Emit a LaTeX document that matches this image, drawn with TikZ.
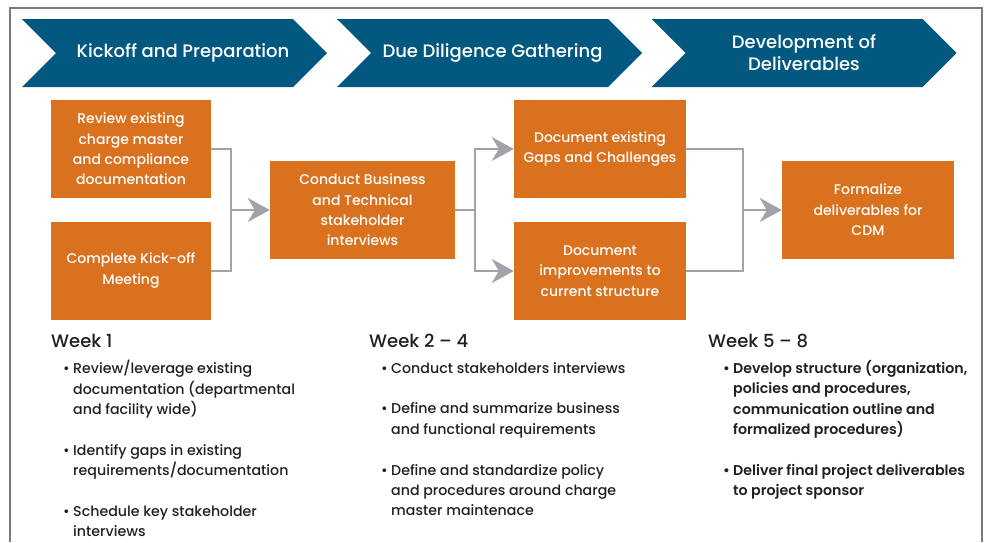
\documentclass[tikz,border=0pt]{standalone}
\usepackage{fontspec}
\setmainfont{Poppins}[UprightFont=* Medium, BoldFont=* SemiBold]
\usetikzlibrary{shapes.symbols,arrows.meta,positioning}

\definecolor{phaseblue}{HTML}{02587F}
\definecolor{taskorange}{HTML}{DA711F}
\definecolor{linkgray}{HTML}{A2A2A8}
\definecolor{framegray}{HTML}{7A7A7A}
\definecolor{inktext}{HTML}{231F20}

\newcommand{\bul}{\makebox[10pt][l]{\textbullet}}
\newcommand{\ind}{\hspace*{10pt}}

\begin{document}
\begin{tikzpicture}[x=1pt, y=-1pt,
    phase/.style={shape=signal, signal from=west, signal to=east, fill=phaseblue, text=white,
        minimum width=305pt, minimum height=68pt, inner sep=0pt, align=center,
        font=\fontsize{18}{22}\selectfont},
    task/.style={fill=taskorange, text=white, minimum height=98pt, inner sep=0pt, align=center,
        font=\fontsize{14}{20.4}\selectfont},
    link/.style={draw=linkgray, line width=2pt},
    flow/.style={-{Stealth[length=22pt, width=24pt, inset=7pt]}},
    week/.style={anchor=base west, inner sep=0pt, text=inktext, font=\fontsize{18}{20}\selectfont},
    notes/.style={anchor=north west, inner sep=0pt, align=left, text=inktext,
        font=\fontsize{14.2}{20.4}\selectfont}]
    \useasboundingbox (0,0) rectangle (987,542);

    % Outer frame (open at the bottom)
    \draw[framegray, line width=1.3pt] (10,542) -- (10,8) -- (982,8) -- (982,542);

    % Phase chevrons
    \node[phase] (kick) at (174.5,53) {\hspace*{17pt}Kickoff and Preparation};
    \node[phase] (dili) at (489.5,53) {\hspace*{6pt}Due Diligence Gathering};
    \node[phase] (devel) at (804,53) {Development of\\Deliverables};

    % Tasks - first column
    \node[task, minimum width=160pt] (review) at (131,149) {Review existing\\charge master\\and compliance\\documentation};
    \node[task, minimum width=160pt] (kickoff) at (131,270.5) {Complete Kick-off\\Meeting};

    % Tasks - middle
    \node[task, minimum width=185pt] (interviews) at (362.5,210) {Conduct Business\\and Technical\\stakeholder\\interviews};
    \node[task, minimum width=172pt] (gaps) at (600,149) {Document existing\\Gaps and Challenges};
    \node[task, minimum width=172pt] (improve) at (600,271) {Document\\improvements to\\current structure};

    % Tasks - last column
    \node[task, minimum width=172pt] (formalize) at (868,210) {Formalize\\deliverables for\\CDM};

    % Connectors
    \coordinate (join1) at (231,210);
    \coordinate (join2) at (475,210);
    \coordinate (join3) at (743,210);
    \draw[link] (review.east) -| (join1) |- (kickoff.east);
    \draw[link, flow] (join1) -- (interviews);
    \draw[link] (interviews.east) -- (join2);
    \draw[link, flow] (join2) |- (gaps.west);
    \draw[link, flow] (join2) |- (improve.west);
    \draw[link] (gaps.east) -| (join3) |- (improve.east);
    \draw[link, flow] (join3) -- (formalize);

    % Week headings
    \node[week] (wk1) at (51,347) {Week 1};
    \node[week] (wk2) at (369,347) {Week 2 – 4};
    \node[week] (wk3) at (708,347) {Week 5 – 8};

    % Activity lists
    \node[notes] (acts1) at (63,360) {\bul Review/leverage existing\\
        \ind documentation (departmental\\
        \ind and facility wide)\\[20.4pt]
        \bul Identify gaps in existing\\
        \ind requirements/documentation\\[20.4pt]
        \bul Schedule key stakeholder\\
        \ind interviews};
    \node[notes] (acts2) at (381,362) {\bul Conduct stakeholders interviews\\[20.4pt]
        \bul Define and summarize business\\
        \ind and functional requirements\\[20.4pt]
        \bul Define and standardize policy\\
        \ind and procedures around charge\\
        \ind master maintenace};
    \node[notes, font=\fontsize{14.2}{20.4}\selectfont\bfseries] (acts3) at (723,360) {\bul Develop structure (organization,\\
        \ind policies and procedures,\\
        \ind communication outline and\\
        \ind formalized procedures)\\[20.4pt]
        \bul Deliver final project deliverables\\
        \ind to project sponsor};
\end{tikzpicture}
\end{document}
